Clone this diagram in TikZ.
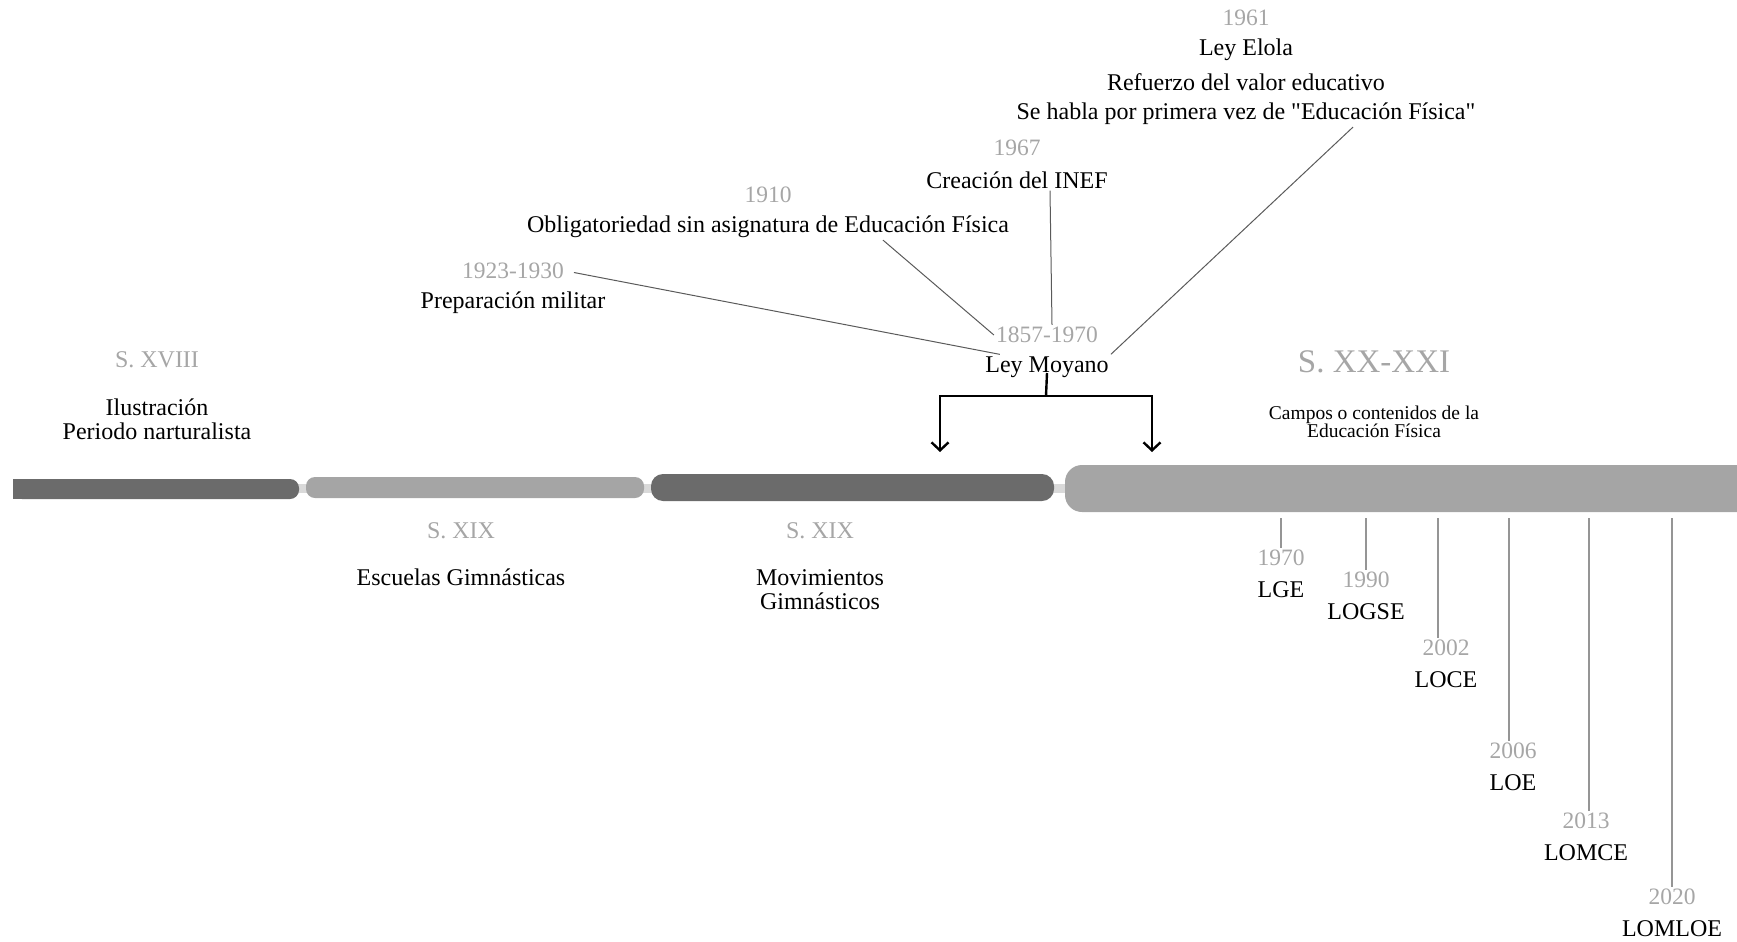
\documentclass[tikz,border=0pt]{standalone}
\usepackage{fontspec}
\setmainfont{Liberation Serif}[Ligatures=TeXOff]
\usetikzlibrary{arrows.meta}
\definecolor{datecol}{HTML}{A6A6A6}
\definecolor{darkbar}{HTML}{6B6B6B}
\definecolor{lightbar}{HTML}{A5A5A5}
\definecolor{trackcol}{HTML}{D9D9D9}
\definecolor{linkcol}{HTML}{5A5A5A}
\definecolor{tickcol}{HTML}{959595}
\tikzstyle{date} = [text=datecol, font=\fontsize{23.5}{24}\selectfont, inner sep=2pt]
\tikzstyle{event} = [text=black, font=\fontsize{24}{24}\selectfont, align=center, inner sep=2pt]
\tikzstyle{era} = [text=datecol, font=\fontsize{24}{24}\selectfont, inner sep=2pt]
\tikzstyle{bar} = [rectangle, inner sep=0pt, rounded corners=9pt]
\tikzstyle{link} = [draw=linkcol, line width=1pt]
\tikzstyle{tick} = [draw=tickcol, line width=1.6pt, shorten <=6pt]
\tikzstyle{fork} = [draw, line width=2.4pt, -{Straight Barb[length=8pt,width=17pt]}]

\begin{document}
\begin{tikzpicture}[x=1pt, y=-1pt, node distance=32pt]
        \useasboundingbox (0,0) rectangle (1737,942);
        % timeline
        \fill[trackcol] (13,484) rectangle (1100,493);
        \node[bar, fill=darkbar, minimum width=286pt, minimum height=20pt] (xviii) at (156,489) {};
        \fill[darkbar] (xviii.south west) rectangle ([xshift=12pt]xviii.north west);
        \node[bar, fill=lightbar, minimum width=338pt, minimum height=21pt] (escbar) at (475,487.5) {};
        \node[bar, fill=darkbar, minimum width=403pt, minimum height=27pt, rounded corners=12pt] (movbar) at (852.5,487.5) {};
        \node[bar, fill=lightbar, minimum width=715pt, minimum height=47pt, rounded corners=17pt] (modern) at (1422.5,488.5) {};
        % periods
        \node[era] (sxviii) at (157,360) {S. XVIII};
        \node[event] (ilustracion) at (157,419) {Ilustración\\Periodo narturalista};
        \node[era] (sxix) at (461,531) {S. XIX};
        \node[event] (escuelas) at (461,577) {Escuelas Gimnásticas};
        \node[era] (sxixb) at (820,531) {S. XIX};
        \node[event] (movimientos) at (820,590) {Movimientos\\Gimnásticos};
        \node[era, font=\fontsize{33}{33}\selectfont] (sxx) at (1374,362) {S. XX-XXI};
        \node[event, font=\fontsize{19.5}{18}\selectfont] (campos) at (1374,422) {Campos o contenidos de la\\Educación Física};
        % Ley Moyano and later events
        \node[date] (d1857) at (1047,335) {1857-1970};
        \node[event, below of=d1857] (moyano) {Ley Moyano};
        \node[date] (d1923) at (513,271) {1923-1930};
        \node[event, below of=d1923] (militar) {Preparación militar};
        \node[date] (d1910) at (768,195) {1910};
        \node[event, below of=d1910] (oblig) {Obligatoriedad sin asignatura de Educación Física};
        \node[date] (d1967) at (1017,148) {1967};
        \node[event, below of=d1967] (inef) {Creación del INEF};
        \node[date] (d1961) at (1246,18) {1961};
        \node[event, below of=d1961] (elola) {Ley Elola};
        \node[event, below of=elola] (refuerzo) {Refuerzo del valor educativo};
        \node[event, below of=refuerzo] (sehabla) {Se habla por primera vez de "Educación Física"};
        \path[link, shorten <=8pt] (d1923.east) -- (moyano.165);
        \path[link] ([xshift=115pt]oblig.south) -- (d1857.west);
        \path[link] ([xshift=33pt]inef.south) -- ([xshift=5pt]d1857.north);
        \path[link] ([xshift=107pt]sehabla.south) -- (moyano.north east);
        % fork down to the bars
        \coordinate (split) at (1046,396);
        \coordinate (tipold) at (940,452);
        \coordinate (tipnew) at (1152,452);
        \draw[line width=2.4pt] ([yshift=-6pt]moyano.center) -- (split);
        \path[fork] (split) -| (tipold);
        \path[fork] (split) -| (tipnew);
        % laws
        \node[date] (d1970) at (1281,558) {1970};
        \node[event, below of=d1970] (lge) {LGE};
        \node[date] (d1990) at (1366,580) {1990};
        \node[event, below of=d1990] (logse) {LOGSE};
        \node[date] (d2002) at (1446,648) {2002};
        \node[event, below of=d2002] (loce) {LOCE};
        \node[date] (d2006) at (1513,751) {2006};
        \node[event, below of=d2006] (loe) {LOE};
        \node[date] (d2013) at (1586,821) {2013};
        \node[event, below of=d2013] (lomce) {LOMCE};
        \node[date] (d2020) at (1672,897) {2020};
        \node[event, below of=d2020] (lomloe) {LOMLOE};
        \path[tick] (d1970.north |- modern.south) -- (d1970.north);
        \path[tick] (d1990.north |- modern.south) -- (d1990.north);
        \path[tick] ([xshift=-8pt]d2002.north |- modern.south) -- ([xshift=-8pt]d2002.north);
        \path[tick] ([xshift=-4pt]d2006.north |- modern.south) -- ([xshift=-4pt]d2006.north);
        \path[tick] ([xshift=3pt]d2013.north |- modern.south) -- ([xshift=3pt]d2013.north);
        \path[tick] (d2020.north |- modern.south) -- (d2020.north);
    \end{tikzpicture}
\end{document}
